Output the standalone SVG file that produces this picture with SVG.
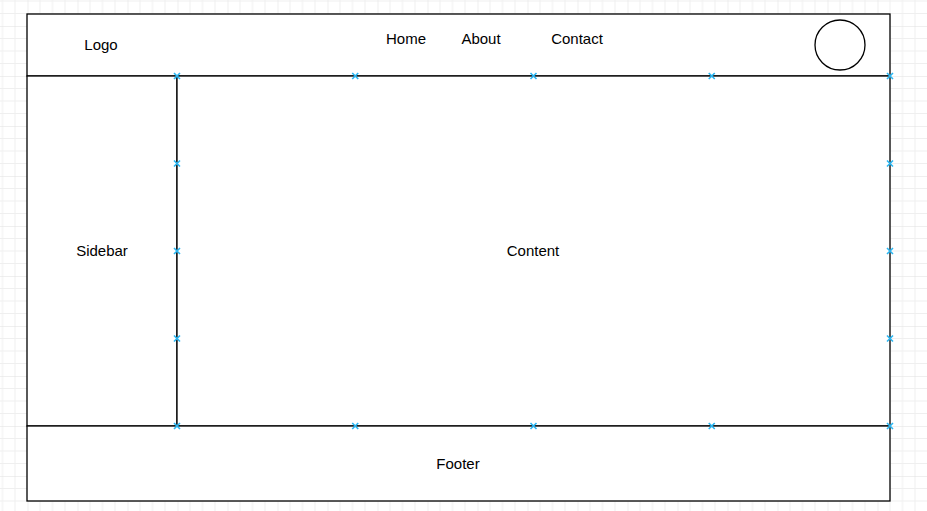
<svg xmlns="http://www.w3.org/2000/svg" width="927" height="511" viewBox="0 0 927 511">
  <style>
    .box { fill: #ffffff; stroke: #000000; stroke-width: 1.3; }
    .label { font-family: "Liberation Sans", Arial, sans-serif; font-size: 15px; fill: #000000; text-anchor: middle; }
    .pt { stroke: #29b6f2; stroke-width: 1.6; fill: none; }
  </style>
  <defs>
    <!-- page grid: minor every 12.5px, major every 50px -->
    <pattern id="grid" patternUnits="userSpaceOnUse" x="27.5" y="26" width="50" height="50">
      <path d="M12.5 0V50M25 0V50M37.5 0V50M0 12.5H50M0 25H50M0 37.5H50" stroke="#efefef" stroke-width="1" fill="none"/>
      <path d="M0 0V50M0 0H50" stroke="#e0e0e0" stroke-width="1" fill="none"/>
    </pattern>
    <!-- connection point marker -->
    <path id="cp" class="pt" d="M-3 -3L3 3M-3 3L3 -3"/>
  </defs>

  <rect x="0" y="0" width="927" height="511" fill="#ffffff"/>
  <rect x="0" y="0" width="927" height="511" fill="url(#grid)"/>

  <g id="header">
    <rect class="box" x="27" y="14" width="863" height="62"/>
    <text class="label" x="101" y="50">Logo</text>
    <text class="label" x="406" y="44">Home</text>
    <text class="label" x="481" y="44">About</text>
    <text class="label" x="577" y="44">Contact</text>
  </g>

  <g id="avatar">
    <circle cx="840" cy="45" r="25" fill="#ffffff" stroke="#000000" stroke-width="1.3"/>
  </g>

  <g id="sidebar">
    <rect class="box" x="27" y="76" width="150" height="350"/>
    <text class="label" x="102" y="256">Sidebar</text>
  </g>

  <g id="content">
    <rect class="box" x="177" y="76" width="713" height="350"/>
    <text class="label" x="533" y="256">Content</text>
  </g>

  <g id="footer">
    <rect class="box" x="27" y="426" width="863" height="75"/>
    <text class="label" x="458" y="469">Footer</text>
  </g>

  <g id="connectors">
    <use href="#cp" x="177" y="76"/>
    <use href="#cp" x="355.25" y="76"/>
    <use href="#cp" x="533.5" y="76"/>
    <use href="#cp" x="711.75" y="76"/>
    <use href="#cp" x="890" y="76"/>
    <use href="#cp" x="177" y="163.5"/>
    <use href="#cp" x="177" y="251"/>
    <use href="#cp" x="177" y="338.5"/>
    <use href="#cp" x="890" y="163.5"/>
    <use href="#cp" x="890" y="251"/>
    <use href="#cp" x="890" y="338.5"/>
    <use href="#cp" x="177" y="426"/>
    <use href="#cp" x="355.25" y="426"/>
    <use href="#cp" x="533.5" y="426"/>
    <use href="#cp" x="711.75" y="426"/>
    <use href="#cp" x="890" y="426"/>
  </g>
</svg>
